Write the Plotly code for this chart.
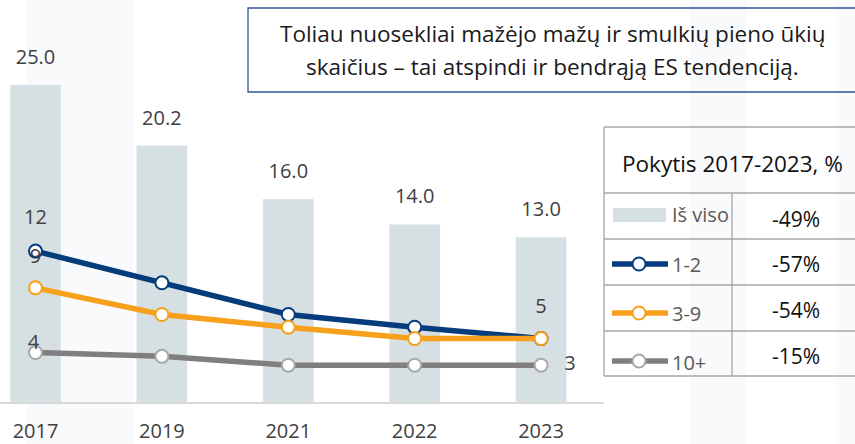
import plotly.graph_objects as go

# ---------------- data ----------------
years = ["2017", "2019", "2021", "2022", "2023"]
total = [25.0, 20.2, 16.0, 14.0, 13.0]
total_labels = ["25.0", "20.2", "16.0", "14.0", "13.0"]
farms_1_2 = [11.9, 9.4, 6.9, 5.9, 5.0]
farms_3_9 = [9.0, 6.9, 5.9, 5.0, 5.0]
farms_10p = [3.9, 3.6, 2.9, 2.9, 2.9]
series_names = ["Iš viso", "1-2", "3-9", "10+"]
changes = ["-49%", "-57%", "-54%", "-15%"]
table_title = "Pokytis 2017-2023, %"
note_lines = ["Toliau nuosekliai mažėjo mažų ir smulkių pieno ūkių",
              "skaičius – tai atspindi ir bendrąją ES tendenciją."]

# ---------------- styles ----------------
FONT = "Open Sans"
TXT = "#404040"
BAR_C = "#D6DFE1"
NAVY = "#053C7C"
ORANGE = "#F7A01B"
GREY = "#7F7F7F"
GREY_M = "#A8A8A8"
W, H = 855, 444
PL, PR, PT, PB = 0, 604, 0, 402
XR = [-0.281, 4.498]
YR = [0, 31.7]
PXU_Y = (PB - PT) / (YR[1] - YR[0])   # pixels per y unit
PXU_X = (PR - PL) / (XR[1] - XR[0])   # pixels per x unit


def px(x):
    return (x - PL) / (PR - PL)


def py(y):
    return (PB - y) / (PB - PT)


xi = list(range(len(years)))

fig = go.Figure()
fig.add_trace(go.Bar(x=xi, y=total, marker_color=BAR_C, width=0.4,
                     name=series_names[0], hoverinfo="skip"))


def line_trace(vals, color, mcolor, name):
    return go.Scatter(x=xi, y=vals, mode="lines+markers", name=name,
                      line=dict(color=color, width=5.5),
                      marker=dict(size=13, color="white",
                                  line=dict(color=mcolor, width=2)))


fig.add_trace(line_trace(farms_10p, GREY, GREY_M, series_names[3]))
fig.add_trace(line_trace(farms_1_2, NAVY, NAVY, series_names[1]))
fig.add_trace(line_trace(farms_3_9, ORANGE, ORANGE, series_names[2]))

# bar value labels (offset above bar top in pixels)
fig.add_trace(go.Scatter(x=xi, y=[v + 26 / PXU_Y for v in total], text=total_labels,
                         mode="text", textposition="middle center", hoverinfo="skip",
                         textfont=dict(size=20, color=TXT, family=FONT)))

# line labels: (x index, value, text, x px offset, y px offset)
line_labels = [
    (0, farms_1_2[0], "12", 0, 32),
    (0, farms_3_9[0], "9", 0, 30),
    (0, farms_10p[0], "4", -2, 9),
    (4, farms_3_9[4], "5", 0, 31),
    (4, farms_10p[4], "3", 29, 0),
]
fig.add_trace(go.Scatter(
    x=[x + dx / PXU_X for x, _, _, dx, _ in line_labels],
    y=[v + dy / PXU_Y for _, v, _, _, dy in line_labels],
    text=[t for _, _, t, _, _ in line_labels],
    mode="text", textposition="middle center", hoverinfo="skip",
    textfont=dict(size=20, color=TXT, family=FONT)))

ann = []
# note box text
for line, yc in zip(note_lines, [34, 67]):
    ann.append(dict(xref="paper", yref="paper", x=px(552), y=py(yc), text=line,
                    showarrow=False, xanchor="center", yanchor="middle",
                    font=dict(size=22.5, color="#1a1a1a", family=FONT)))

# table texts
ann.append(dict(xref="paper", yref="paper", x=px(732), y=py(163), text=table_title,
                showarrow=False, xanchor="center", yanchor="middle",
                font=dict(size=22.5, color="#111111", family=FONT)))
val_y = [219, 264, 310, 356]
lab_y = [215, 264, 313, 362]
for name, ch, vy, ly in zip(series_names, changes, val_y, lab_y):
    ann.append(dict(xref="paper", yref="paper", x=px(796), y=py(vy), text=ch,
                    showarrow=False, xanchor="center", yanchor="middle",
                    font=dict(size=21, color="#111111", family=FONT)))
    ann.append(dict(xref="paper", yref="paper", x=px(670), y=py(ly), text=name,
                    showarrow=False, xanchor="left", yanchor="middle",
                    font=dict(size=20, color="#595959", family=FONT)))

shapes = []
# faint watermark bands
for x0, x1 in [(27, 133), (690, 746), (836, 860)]:
    shapes.append(dict(type="rect", xref="paper", yref="paper", layer="below",
                       x0=px(x0), x1=px(x1), y0=py(0), y1=py(444),
                       fillcolor="#F9FAFB", line=dict(width=0)))
# note box
shapes.append(dict(type="rect", xref="paper", yref="paper",
                   x0=px(248), x1=px(858), y0=py(92), y1=py(8),
                   fillcolor="rgba(255,255,255,0)", line=dict(color="#2F5597", width=1.3)))
# table grid
TB = "#A6A6A6"
for yy in [127, 193, 239, 285, 331, 376]:
    shapes.append(dict(type="line", xref="paper", yref="paper",
                       x0=px(604), x1=px(860), y0=py(yy), y1=py(yy),
                       line=dict(color=TB, width=1.3)))
shapes.append(dict(type="line", xref="paper", yref="paper",
                   x0=px(604), x1=px(604), y0=py(127), y1=py(376), line=dict(color=TB, width=1.3)))
shapes.append(dict(type="line", xref="paper", yref="paper",
                   x0=px(732), x1=px(732), y0=py(193), y1=py(376), line=dict(color=TB, width=1.3)))
# legend symbols
shapes.append(dict(type="rect", xref="paper", yref="paper",
                   x0=px(613), x1=px(666), y0=py(222), y1=py(208),
                   fillcolor=BAR_C, line=dict(width=0)))
for yy, c, mc in [(264, NAVY, NAVY), (313, ORANGE, ORANGE), (361, GREY, GREY_M)]:
    shapes.append(dict(type="line", xref="paper", yref="paper",
                       x0=px(612), x1=px(668), y0=py(yy), y1=py(yy),
                       line=dict(color=c, width=5.5)))
    shapes.append(dict(type="circle", xref="paper", yref="paper",
                       x0=px(632.5), x1=px(645.5), y0=py(yy + 6.5), y1=py(yy - 6.5),
                       fillcolor="white", line=dict(color=mc, width=2)))

fig.update_layout(
    width=W, height=H,
    margin=dict(l=PL, r=W - PR, t=PT, b=H - PB, autoexpand=False),
    paper_bgcolor="white", plot_bgcolor="rgba(0,0,0,0)",
    showlegend=False, bargap=0.6,
    font=dict(family=FONT, color=TXT, size=20),
    annotations=ann, shapes=shapes,
    xaxis=dict(type="linear", range=XR, tickvals=xi, ticktext=years, showgrid=False,
               zeroline=False, showline=True, linecolor="#D9D9D9", linewidth=2,
               ticks="", ticklabelstandoff=10, tickfont=dict(size=20, color=TXT, family=FONT),
               fixedrange=True),
    yaxis=dict(range=YR, showticklabels=False, showline=False, ticks="",
               showgrid=False, zeroline=False, fixedrange=True),
)

fig.write_html("out.html", config={"displayModeBar": False},
               post_script="document.body.style.margin='0';")
